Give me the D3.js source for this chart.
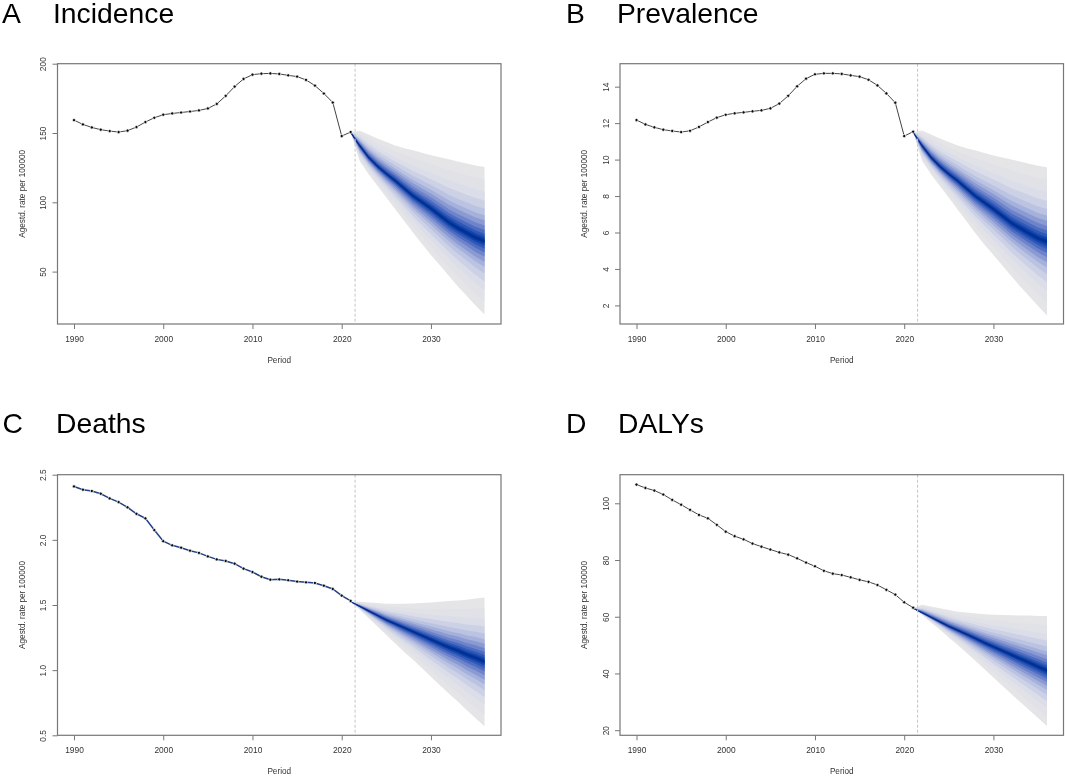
<!DOCTYPE html>
<html>
<head>
<meta charset="utf-8">
<script src="https://cdn.jsdelivr.net/npm/d3@7"></script>
<style>
  html, body { margin: 0; padding: 0; background: #fff; }
  svg { display: block; filter: blur(0.35px); }
  text { font-family: "Liberation Sans", Arial, sans-serif; }
</style>
</head>
<body>
<div id="d3-container"></div>
<script>
/**
 * DATA
 * */
const histYears = d3.range(1990, 2022);
const fanYears = d3.range(2021, 2037);
const xTicks = [1990, 2000, 2010, 2020, 2030];

const incidenceHist = [159.3, 156.2, 154, 152.4, 151.4, 150.7, 151.7, 154.3, 157.9, 161, 163.2, 164.1, 164.8, 165.5, 166.3, 167.7, 171, 176.8, 183.5, 189, 192.1, 192.8, 193, 192.6, 191.6, 190.7, 188.3, 184.2, 178.5, 172, 147.8, 150.7];
const incidenceMedian = [150.5, 141, 132.5, 126, 120.5, 115.5, 110, 104.5, 100, 95.5, 90.5, 85.5, 81.5, 78, 74.5, 72];
const incidenceUpper = [150.5, 151.7, 149, 146, 143.5, 141, 139, 137.5, 135.7, 134, 132.5, 131, 129.5, 128, 126.5, 125.5];
const incidenceLower = [150.5, 130, 120.5, 112, 103.5, 95, 86.5, 78, 70, 62, 54.5, 47, 39.5, 32.5, 25.5, 19];
const incidenceTicks = [50, 100, 150, 200];

const prevalenceHist = [12.17, 11.93, 11.77, 11.64, 11.57, 11.51, 11.58, 11.79, 12.06, 12.3, 12.46, 12.54, 12.59, 12.65, 12.7, 12.81, 13.07, 13.5, 14.02, 14.44, 14.68, 14.73, 14.73, 14.7, 14.62, 14.55, 14.38, 14.07, 13.63, 13.12, 11.29, 11.53];
const prevalenceMedian = [11.5, 10.76, 10.12, 9.62, 9.2, 8.82, 8.4, 7.98, 7.63, 7.28, 6.9, 6.52, 6.23, 5.95, 5.68, 5.5];
const prevalenceUpper = [11.5, 11.59, 11.38, 11.15, 10.96, 10.77, 10.62, 10.5, 10.36, 10.23, 10.12, 10, 9.89, 9.77, 9.66, 9.58];
const prevalenceLower = [11.5, 9.93, 9.2, 8.55, 7.9, 7.25, 6.6, 5.95, 5.33, 4.76, 4.19, 3.61, 3.04, 2.5, 1.97, 1.44];
const prevalenceTicks = [2, 4, 6, 8, 10, 12, 14];

const deathsHist = [2.41, 2.385, 2.375, 2.354, 2.318, 2.29, 2.25, 2.2, 2.165, 2.075, 1.99, 1.958, 1.94, 1.917, 1.9, 1.873, 1.85, 1.838, 1.817, 1.779, 1.753, 1.717, 1.694, 1.697, 1.69, 1.68, 1.674, 1.669, 1.648, 1.623, 1.572, 1.531];
const deathsMedian = [1.525, 1.49, 1.455, 1.42, 1.385, 1.355, 1.325, 1.295, 1.265, 1.235, 1.205, 1.175, 1.15, 1.12, 1.095, 1.065];
const deathsUpper = [1.525, 1.525, 1.52, 1.515, 1.51, 1.51, 1.51, 1.512, 1.515, 1.52, 1.525, 1.53, 1.535, 1.54, 1.55, 1.557];
const deathsLower = [1.525, 1.465, 1.4, 1.335, 1.27, 1.205, 1.14, 1.08, 1.015, 0.95, 0.885, 0.82, 0.76, 0.695, 0.63, 0.57];
const deathsTicks = [0.5, 1, 1.5, 2, 2.5];

const dalysHist = [106.6, 105.4, 104.5, 103.1, 101.2, 99.5, 97.7, 95.9, 94.7, 92.4, 90, 88.4, 87.3, 85.8, 84.7, 83.7, 82.7, 81.9, 80.6, 79.1, 77.8, 76.2, 75.2, 74.7, 73.9, 73, 72.3, 71.2, 69.5, 67.8, 65.1, 63.2];
const dalysMedian = [63, 61.4, 59.8, 58.2, 56.6, 55.2, 53.8, 52.3, 50.8, 49.4, 48, 46.6, 45.2, 43.8, 42.4, 41];
const dalysUpper = [63, 64.2, 63.6, 63, 62.4, 61.8, 61.5, 61.1, 60.9, 60.7, 60.6, 60.5, 60.4, 60.4, 60.3, 60.3];
const dalysLower = [63, 60.6, 58, 55.4, 52.7, 50, 47.2, 44.4, 41.5, 38.6, 35.7, 32.8, 29.9, 27.1, 24.3, 21.5];
const dalysTicks = [20, 40, 60, 80, 100];

// share of the outer half width covered by each fan band, outermost first
const bandShares = [1, 0.83, 0.67, 0.55, 0.44, 0.35, 0.28, 0.21, 0.15, 0.1, 0.06, 0.03];
const bandColors = ["#e5e5e7", "#e1e2e7", "#dbdde8", "#cdd1e6", "#bbc3e2", "#a5b0db", "#8a9ad3", "#6d83ca", "#4d6bc0", "#2e58b6", "#1146ab", "#0036a3"];

const panels = [
  { letter: "A", title: "Incidence", letterX: 2, titleX: 53, baseY: 23, left: 57.5, top: 63.7, bottom: 324, yDomain: [12.2, 200], hist: incidenceHist, median: incidenceMedian, upper: incidenceUpper, lower: incidenceLower, ticks: incidenceTicks, fmt: d3.format("d"), lineColor: "#444" },
  { letter: "B", title: "Prevalence", letterX: 566, titleX: 617, baseY: 23, left: 620, top: 63.7, bottom: 324, yDomain: [0.98, 15.26], hist: prevalenceHist, median: prevalenceMedian, upper: prevalenceUpper, lower: prevalenceLower, ticks: prevalenceTicks, fmt: d3.format("d"), lineColor: "#444" },
  { letter: "C", title: "Deaths", letterX: 2.5, titleX: 56, baseY: 433.3, left: 57.5, top: 474.7, bottom: 735.3, yDomain: [0.5, 2.5], hist: deathsHist, median: deathsMedian, upper: deathsUpper, lower: deathsLower, ticks: deathsTicks, fmt: d3.format(".1f"), lineColor: "#1f3f86" },
  { letter: "D", title: "DALYs", letterX: 566, titleX: 618, baseY: 433.3, left: 620, top: 474.7, bottom: 735.3, yDomain: [18.2, 110.08], hist: dalysHist, median: dalysMedian, upper: dalysUpper, lower: dalysLower, ticks: dalysTicks, fmt: d3.format("d"), lineColor: "#444" },
];

/**
 * CONSTANTS
 * */
const width = 1065,
  height = 776,
  plotWidth = 443.5,
  axisColor = "#777",
  textColor = "#333";

const svg = d3.select("#d3-container")
  .append("svg")
  .attr("width", width)
  .attr("height", height);

panels.forEach(drawPanel);

/**
 * DRAW ONE PANEL
 * */
function drawPanel(p) {
  const x = d3.scaleLinear().domain([1988.15, 2037.85]).range([p.left, p.left + plotWidth]);
  const y = d3.scaleLinear().domain(p.yDomain).range([p.bottom, p.top]);
  const g = svg.append("g");

  // panel heading
  g.append("text").attr("x", p.letterX).attr("y", p.baseY)
    .attr("font-size", 28.3).attr("fill", "#000").text(p.letter);
  g.append("text").attr("x", p.titleX).attr("y", p.baseY)
    .attr("font-size", 28.3).attr("fill", "#000").text(p.title);

  // fan, outer bands first so the inner ones sit on top
  const band = d3.area().x((d, i) => x(fanYears[i]));
  g.selectAll(".band")
    .data(bandShares)
    .join("path")
    .attr("class", "band")
    .attr("fill", (d, i) => bandColors[i])
    .attr("d", share => band
      .y0((d, i) => y(p.median[i] - share * (p.median[i] - p.lower[i])))
      .y1((d, i) => y(p.median[i] + share * (p.upper[i] - p.median[i])))(fanYears));

  // forecast median
  const medianLine = d3.line().x((d, i) => x(fanYears[i])).y(d => y(d));
  g.append("path")
    .attr("d", medianLine(p.median))
    .attr("fill", "none")
    .attr("stroke", "#0a2c86")
    .attr("stroke-width", 1.2);

  // start of the forecast
  g.append("line")
    .attr("x1", x(2021.5)).attr("x2", x(2021.5))
    .attr("y1", p.top).attr("y2", p.bottom)
    .attr("stroke", "#c4c4c4")
    .attr("stroke-width", 1)
    .attr("stroke-dasharray", "3,2");

  // observed rates, white ring leaves the small gaps of R's type "b"
  const histLine = d3.line().x((d, i) => x(histYears[i])).y(d => y(d));
  g.append("path")
    .attr("d", histLine(p.hist))
    .attr("fill", "none")
    .attr("stroke", p.lineColor)
    .attr("stroke-width", p.letter === "C" ? 1.5 : 1);
  g.selectAll(".pt")
    .data(p.hist)
    .join("circle")
    .attr("class", "pt")
    .attr("cx", (d, i) => x(histYears[i]))
    .attr("cy", d => y(d))
    .attr("r", 1.6)
    .attr("fill", "#0b0b0b")
    .attr("stroke", "#fff")
    .attr("stroke-width", 0.7);

  // axes
  const xAxis = g.append("g")
    .attr("transform", `translate(0,${p.bottom})`)
    .call(d3.axisBottom(x).tickValues(xTicks).tickFormat(d3.format("d")).tickSize(5).tickPadding(7));
  const yAxis = g.append("g")
    .attr("transform", `translate(${p.left},0)`)
    .call(d3.axisLeft(y).tickValues(p.ticks).tickFormat(p.fmt).tickSize(5));
  [xAxis, yAxis].forEach(a => {
    a.select(".domain").remove();
    a.selectAll("line").attr("stroke", axisColor);
    a.selectAll("text").attr("font-size", 8.4).attr("fill", textColor)
      .style("font-family", '"Liberation Sans", Arial, sans-serif');
  });
  // R style: y tick labels run along the axis
  yAxis.selectAll("text")
    .attr("transform", "translate(-11.5,0) rotate(-90)")
    .attr("x", 0)
    .attr("y", 0)
    .attr("dy", 0)
    .attr("text-anchor", "middle");

  // box
  g.append("rect")
    .attr("x", p.left).attr("y", p.top)
    .attr("width", plotWidth).attr("height", p.bottom - p.top)
    .attr("fill", "none")
    .attr("stroke", axisColor)
    .attr("stroke-width", 1.2);

  // axis titles
  g.append("text")
    .attr("x", p.left + plotWidth / 2)
    .attr("y", p.bottom + 39)
    .attr("text-anchor", "middle")
    .attr("font-size", 8.2).attr("fill", textColor)
    .text("Period");
  const cy = (p.top + p.bottom) / 2;
  g.append("text")
    .attr("transform", `translate(${p.left - 33},${cy}) rotate(-90)`)
    .attr("text-anchor", "middle")
    .attr("font-size", 8.2).attr("fill", textColor)
    .text("Agestd. rate per 100000");
}
</script>
</body>
</html>
